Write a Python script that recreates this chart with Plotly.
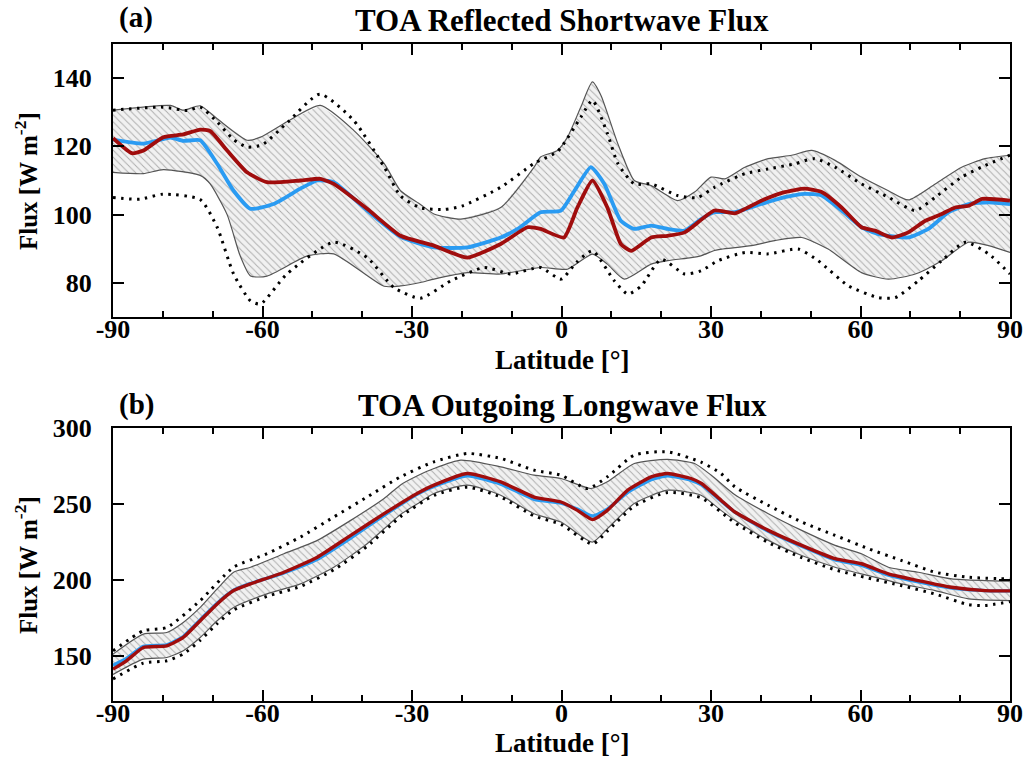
import plotly.graph_objects as go

# ---------------- Panel (a): TOA reflected shortwave flux ----------------
sw_red_lat = [-90, -86.2, -83.9, -79.9, -75.9, -72.5, -70.5, -67.1, -63.1, -59.1, -52.4, -48.4, -45.7, -39,
              -32.3, -25.6, -18.9, -12.2, -6.8, -4.2, 0.5, 3.2, 6.2, 9.2, 11.9, 14, 18, 21.3, 24.7, 30.7,
              34.8, 40.1, 44.8, 48.8, 52.2, 56.2, 60.2, 62.9, 66.3, 69.6, 73, 76.3, 79, 81.7, 84.4, 90]
sw_red = [122.4, 118, 118.8, 122.7, 123.5, 124.9, 124.5, 118.8, 112.4, 109.5, 110, 110.5, 109, 101.7,
          93.8, 90.9, 87.4, 91.4, 96.3, 95.8, 93.3, 102.1, 110, 102.1, 91.4, 89.4, 93.3, 93.8, 94.8, 101.2,
          100.4, 104.1, 106.6, 107.6, 106.6, 102.1, 96.3, 95.3, 93.3, 94.8, 98.2, 100.2, 102.1, 102.6, 104.6, 104.1]

sw_blue_lat = [-90, -83.9, -78.5, -75.9, -72.5, -69.1, -65.8, -62.4, -57.8, -52.4, -49, -45.7, -39, -32.3,
               -25.6, -18.9, -12.2, -8.8, -4.2, -0.1, 2.6, 5.9, 8.6, 11.9, 14.6, 18, 21.3, 24.7, 28, 30.7,
               34.8, 40.1, 44.8, 48.8, 52.2, 56.2, 60.2, 63.6, 69.6, 73.6, 77.7, 81.7, 85.7, 90]
sw_blue = [122, 120.8, 122.6, 121.6, 121.8, 114.9, 107, 101.7, 103.1, 107.6, 110, 109.5, 101.2, 93.5,
           90.4, 90.4, 93.3, 95.8, 100.7, 101.2, 107, 113.9, 109, 98.2, 95.8, 96.8, 95.8, 95.3, 98.7, 100.7,
           100.7, 103.1, 105.1, 106.1, 105.6, 101.2, 96.3, 94.3, 93.3, 95.8, 100.7, 103.1, 103.6, 103.1]

sw_hi_lat = [-90, -78.5, -75.9, -72.5, -69.1, -63.1, -60.4, -55.1, -48.4, -41.7, -35.6, -32.3, -28.3, -25.6,
             -20.2, -12.2, -5.5, -4.2, -0.8, 1.2, 3.9, 6.2, 7.9, 11.3, 14.6, 18, 23.3, 26.7, 30, 32.8, 36.8,
             41.5, 46.2, 50.2, 54.9, 60.2, 65.6, 69.6, 75, 80.3, 85, 90]
sw_hi = [130.6, 132, 130.6, 131.9, 128.1, 121.8, 122.7, 127.2, 132, 124.7, 115, 107, 103, 100.2,
         98.7, 102.1, 113.9, 116.9, 118.8, 122.7, 131.6, 138.9, 135, 120.8, 110, 108.5, 104.1, 106.6, 111, 110.5, 113.9,
         116.4, 117.4, 118.8, 115.9, 111, 107, 104.3, 109, 113.9, 116.4, 117.4]

sw_lo_lat = [-90, -83.9, -79.9, -72.5, -70.5, -67.1, -64.5, -62.4, -59.1, -51, -45.7, -35.6, -32.3, -28.3,
             -25.6, -18.9, -12.2, -4.2, 1.2, 6.2, 9.2, 12.6, 18, 21.3, 26, 28.1, 30.7, 32.1, 38.1, 42.8, 48.2,
             53.5, 60.2, 65.6, 71, 76.3, 81.7, 85.7, 90]
sw_lo = [112.4, 112, 113.2, 111.5, 109, 100, 88, 82, 82, 87.9, 88.5, 79, 79.1, 80.1,
         81.1, 83, 82.6, 84.5, 84, 88.4, 85.5, 81.1, 85.5, 86.5, 87.4, 88, 89.5, 89.9, 90.9, 92.4, 93.3,
         89.9, 83, 81.1, 82.6, 86.5, 91.9, 90.9, 88.9]

sw_dhi_lat = [-90, -80, -75, -72.5, -69, -65.8, -63.1, -60, -55, -48.5, -41.7, -35.6, -32.3, -28.3, -23.6,
              -20, -12.2, -5.5, -0.8, 3.9, 6.2, 9.2, 11.3, 14.6, 18, 23.3, 27.3, 30.7, 32.1, 36.8, 41.5, 46.8,
              50.8, 54.9, 60.2, 65.6, 71, 75, 80.3, 85, 90]
sw_dhi = [130.6, 131.5, 130.5, 131.5, 127, 122, 119.8, 120.5, 127, 135.3, 127.6, 114, 105.5, 102, 101.5,
          102.5, 108, 115, 118.5, 128.6, 133.5, 123.8, 115, 109, 109, 105.6, 105, 108, 109, 112, 113.4, 114.9,
          116.4, 113.9, 109, 105.1, 101.2, 105.1, 111, 114.4, 117.4]

sw_dlo_lat = [-90, -84.6, -80, -72.5, -69.1, -65.8, -62.4, -60.4, -55.1, -45.7, -39, -33.6, -28.3, -22.2,
              -15.5, -10.2, -4.2, -0.1, 3, 6.2, 10.6, 13.3, 16, 20, 24.7, 28, 31.4, 36.8, 41.5, 47.5, 51.5,
              57.6, 63.6, 67, 71.6, 76.3, 81, 85.7, 90]
sw_dlo = [105, 104.5, 106, 104.4, 96.3, 82.6, 74.7, 73.8, 82.6, 91.9, 87.4, 78.6, 75.5, 80.6,
          84.5, 82.6, 84.5, 81.1, 86, 89.4, 80.6, 76.7, 79.1, 86.9, 82.6, 83.5, 86.5, 88.9, 88.5, 89.9, 86.5,
          79.1, 75.7, 75.7, 80.6, 86.5, 91.9, 88.5, 82.6]

# ---------------- Panel (b): TOA outgoing longwave flux ----------------
lw_lat = [-90, -87.3, -83.9, -79.2, -75.9, -72.5, -69.1, -65.8, -62.4, -55.7, -49, -42.3, -35.6, -28.9,
          -25.6, -18.9, -12.2, -5.5, -0.1, 3.2, 6.2, 9.2, 13.3, 18, 21.3, 26, 28.1, 32, 34.8, 41.5, 48.2,
          54.9, 60.2, 65.6, 71.6, 78.3, 85, 90]
lw_red = [141, 146.5, 155.3, 156.4, 161.9, 172.9, 184, 192.8, 197.2, 204.9, 214.8, 229.2, 243.5, 257,
          262.3, 270, 264.5, 254.5, 251.2, 245.7, 239.6, 245.7, 259, 267.8, 270, 266.7, 263.4, 252.4, 244.6,
          232.5, 222.6, 213.8, 210.5, 203.8, 199.4, 195, 192.8, 192.6]
lw_blue = [143.5, 148, 156, 157, 162.5, 173.5, 184.5, 193, 197.5, 204.5, 213.5, 227.5, 242.5, 256.5,
           261.5, 268.5, 263, 253, 250.5, 246.5, 242, 246.5, 257.5, 266, 268.5, 265.5, 262.5, 252, 244.5,
           232, 222, 213, 209.5, 203, 198.5, 194.5, 192.8, 192.6]

lw_hi_lat = [-90, -83.9, -79.2, -75.9, -72.5, -69.1, -65.8, -62.4, -55.7, -49, -42.3, -35.6, -32.3, -28.9,
             -25.6, -20.2, -12.2, -5.5, -0.1, 5.9, 9.2, 14.6, 21.3, 26.7, 30, 34.8, 41.5, 48.2, 54.9, 60.2,
             65.6, 71.6, 78.3, 85, 90]
lw_hi = [150.9, 164.1, 165.2, 171.8, 181.7, 193.9, 204.9, 208.2, 217.1, 225.9, 239.1, 253.5, 262.5, 268.5,
         273.3, 278.8, 274.4, 268.9, 266.7, 260.1, 264.5, 276.6, 279.3, 276.6, 269, 256, 243.5, 232.5, 222.6, 217.1,
         208.2, 204.9, 200.5, 199.4, 199]

lw_lo_lat = [-90, -83.9, -79.2, -75.9, -72.5, -69.1, -65.8, -59.1, -52.4, -45.7, -39, -32.3, -28.9, -25.6,
             -18.9, -12.2, -5.5, -0.1, 6.2, 9.2, 14.6, 21.3, 28, 32, 34.8, 41.5, 48.2, 54.9, 61.6, 68.3, 75,
             81.7, 90]
lw_lo = [137.5, 147.6, 148.7, 153.1, 161.9, 172.9, 181.7, 190.6, 197.2, 208.2, 223.7, 243, 250, 256.8,
         262.3, 255.7, 243.5, 238, 224.8, 233.6, 250.2, 259, 255.7, 245.7, 239.1, 225.9, 215.9, 208.2, 202.7, 197.2, 192.8,
         187.3, 186.2]

lw_dhi_lat = [-90, -83.9, -79.2, -72.5, -65.8, -59.1, -52.4, -45.7, -39, -32.3, -25.6, -18.9, -12.2, -5.5,
              -0.1, 5.2, 9.2, 14.6, 21.3, 28, 32, 34.8, 41.5, 48.2, 54.9, 61.6, 68.3, 75, 81.7, 90]
lw_dhi = [153.1, 166.3, 168.5, 186.2, 208.2, 217.1, 228.1, 241.3, 254.5, 267.8, 277.7, 283.2, 279.9, 272.2,
          268.9, 260.1, 267.8, 282.1, 284.3, 277.5, 270, 261.2, 249, 238, 229.2, 220.4, 212.6, 204.9, 201.6, 200.5]

lw_dlo_lat = [-90, -83.9, -79.2, -75.9, -72.5, -69.1, -65.8, -59.1, -52.4, -45.7, -39, -32.3, -25.6, -18.9,
              -12.2, -5.5, -0.1, 6.2, 9.2, 14.6, 21.3, 28, 34.8, 41.5, 48.2, 54.9, 61.6, 68.3, 75, 81.7, 85, 90]
lw_dlo = [134.5, 145, 146.5, 151, 160, 171, 180, 189, 195.5, 206.5, 222, 241.5, 255.5, 261,
          254.5, 242, 236.5, 223.5, 232, 248.5, 257.5, 254, 237.5, 224.5, 214.5, 206.5, 201, 196, 190.5, 183.5, 183, 185.5]

x_tickvals = [-90, -60, -30, 0, 30, 60, 90]
x_ticktext = ["-90", "-60", "-30", "0", "30", "60", "90"]
sw_yticks = [80, 100, 120, 140]
lw_yticks = [150, 200, 250, 300]

# ---------------- styling ----------------
FONT = "Liberation Serif"
RED = "#a00d0d"
BLUE = "#2a9bf2"
BAND_LINE = "#555555"

fig = go.Figure()


def add_panel(xa, ya, hi_lat, hi, lo_lat, lo, dhi_lat, dhi, dlo_lat, dlo, blue_lat, blue, red_lat, red, lw):
    # hatched spread band (closed polygon built from upper and lower envelopes)
    fig.add_trace(go.Scatter(
        x=list(hi_lat) + list(lo_lat)[::-1], y=list(hi) + list(lo)[::-1],
        xaxis=xa, yaxis=ya, mode="lines", fill="toself",
        fillcolor="#f0f0f0",
        fillpattern=dict(shape="\\", fgcolor="#ababab", bgcolor="#f1f1f1", size=5, solidity=0.18),
        line=dict(width=0), hoverinfo="skip", showlegend=False))
    for lx, ly in ((hi_lat, hi), (lo_lat, lo)):
        fig.add_trace(go.Scatter(x=lx, y=ly, xaxis=xa, yaxis=ya, mode="lines",
                                 line=dict(color=BAND_LINE, width=1.2, shape="spline", smoothing=0.6),
                                 showlegend=False))
    for lx, ly in ((dhi_lat, dhi), (dlo_lat, dlo)):
        fig.add_trace(go.Scatter(x=lx, y=ly, xaxis=xa, yaxis=ya, mode="lines",
                                 line=dict(color="black", width=3, dash="2.5px,5.5px", shape="spline", smoothing=0.6),
                                 showlegend=False))
    fig.add_trace(go.Scatter(x=blue_lat, y=blue, xaxis=xa, yaxis=ya, mode="lines",
                             line=dict(color=BLUE, width=lw, shape="spline", smoothing=0.5),
                             showlegend=False))
    fig.add_trace(go.Scatter(x=red_lat, y=red, xaxis=xa, yaxis=ya, mode="lines",
                             line=dict(color=RED, width=lw, shape="spline", smoothing=0.5),
                             showlegend=False))


add_panel("x", "y", sw_hi_lat, sw_hi, sw_lo_lat, sw_lo, sw_dhi_lat, sw_dhi, sw_dlo_lat, sw_dlo,
          sw_blue_lat, sw_blue, sw_red_lat, sw_red, 3.8)
add_panel("x2", "y2", lw_hi_lat, lw_hi, lw_lo_lat, lw_lo, lw_dhi_lat, lw_dhi, lw_dlo_lat, lw_dlo,
          lw_lat, lw_blue, lw_lat, lw_red, 3.4)

W, H = 1029, 762
xdom = [113 / W, 1010 / W]
ydom_a = [1 - 317 / H, 1 - 44 / H]
ydom_b = [1 - 701 / H, 1 - 428 / H]

tickfont = dict(family=FONT, size=26, color="black", weight="bold")

xcommon = dict(range=[-90, 90], tickvals=x_tickvals, ticktext=x_ticktext, ticks="inside", ticklen=11,
               tickwidth=1.5, tickcolor="black", showline=True, linecolor="black", linewidth=2, mirror="allticks",
               showgrid=False, zeroline=False, tickfont=tickfont, ticklabelstandoff=-12, automargin=False,
               minor=dict(dtick=10, tick0=-90, ticks="inside", ticklen=6, tickwidth=1.5, tickcolor="black", showgrid=False),
               domain=xdom)
ycommon = dict(ticks="inside", ticklen=11, tickwidth=1.5, tickcolor="black", showline=True, linecolor="black",
               linewidth=2, mirror="allticks", showgrid=False, zeroline=False, tickfont=tickfont,
               ticklabelstandoff=14, automargin=False)

fig.update_layout(
    template="none",
    width=W, height=H, margin=dict(l=0, r=0, t=0, b=0, autoexpand=False),
    paper_bgcolor="white", plot_bgcolor="white", showlegend=False,
    xaxis=dict(xcommon, anchor="y"),
    yaxis=dict(ycommon, range=[70, 150], tickvals=sw_yticks, domain=ydom_a, anchor="x"),
    xaxis2=dict(xcommon, anchor="y2"),
    yaxis2=dict(ycommon, range=[120, 300], tickvals=lw_yticks, domain=ydom_b, anchor="x2"),
)

def ann(text, xpx, ypx, size, angle=0, xanchor="center"):
    fig.add_annotation(text=text, x=xpx / W, y=1 - ypx / H, xref="paper", yref="paper",
                       showarrow=False, textangle=angle, xanchor=xanchor, yanchor="middle",
                       font=dict(family=FONT, size=size, color="black", weight="bold"))

ann("(a)", 136, 18, 29)
ann("TOA Reflected Shortwave Flux", 562, 21, 31)
ann("Latitude [°]", 562, 360, 27)
ann("Flux [W m<sup>-2</sup>]", 26, 181, 25, angle=-90)
ann("(b)", 136, 404, 29)
ann("TOA Outgoing Longwave Flux", 562, 405, 31)
ann("Latitude [°]", 562, 743, 27)
ann("Flux [W m<sup>-2</sup>]", 26, 565, 25, angle=-90)

fig.write_html("out.html")
